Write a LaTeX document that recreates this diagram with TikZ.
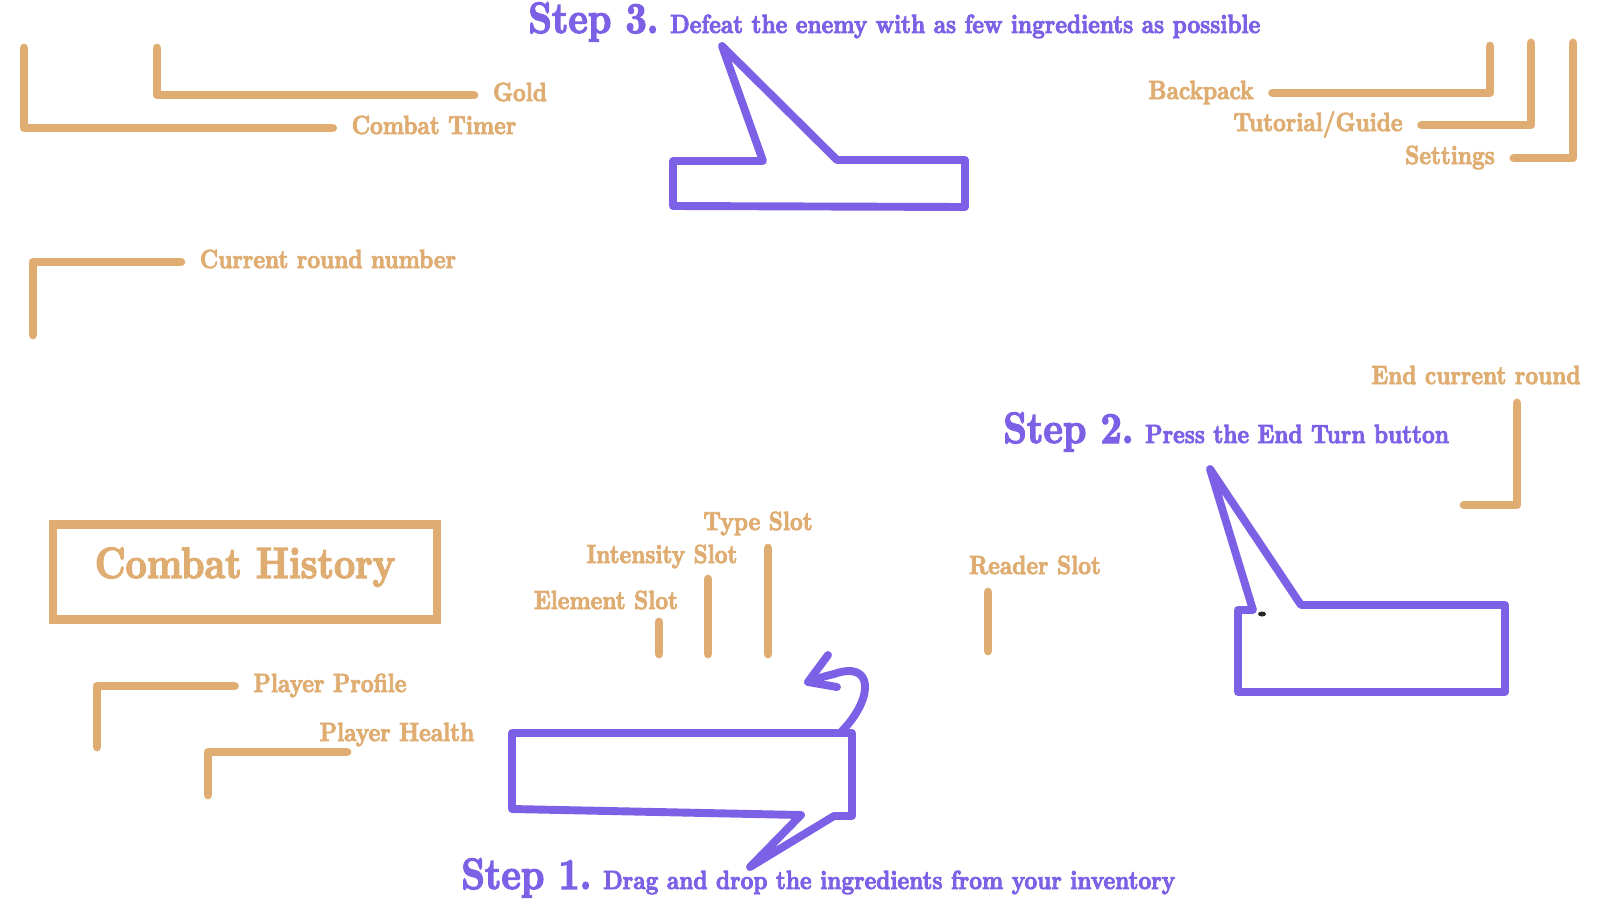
\documentclass[tikz,border=0pt]{standalone}
\usepackage{fontspec}
\usepackage{tikz}
\usetikzlibrary{positioning}
\newfontfamily\handfont[Extension=.otf,FakeStretch=0.84,FakeBold=3]{lmroman10-bold}
\definecolor{sand}{RGB}{223,173,114}
\definecolor{iris}{RGB}{124,97,230}

\begin{document}
\begin{tikzpicture}[x=0.02cm, y=-0.02cm,
  tag/.style={text=sand, font=\handfont\fontsize{15}{18}\selectfont, inner sep=0pt,
              outer sep=0.38cm, text height=2ex, text depth=0.4ex},
  tanline/.style={draw=sand, line width=5pt, line cap=round, line join=round},
  bubble/.style={draw=iris, line width=4.5pt, line cap=round, line join=round},
  stepno/.style={text=iris, font=\handfont\fontsize{25}{30}\selectfont, inner sep=0pt},
  stepnote/.style={text=iris, font=\handfont\fontsize{15}{18}\selectfont, inner sep=0pt}
]
  \useasboundingbox (0,0) rectangle (1600,900);

  % Steps
  \node[stepno, anchor=base west] (step3) at (528,33)  {Step 3.};
  \node[stepnote, base right=0.22cm of step3] (goal3) {Defeat the enemy with as few ingredients as possible};
  \node[stepno, anchor=base west] (step2) at (1003,443) {Step 2.};
  \node[stepnote, base right=0.22cm of step2] (goal2) {Press the End Turn button};
  \node[stepno, anchor=base west] (step1) at (461,889) {Step 1.};
  \node[stepnote, base right=0.22cm of step1] (goal1) {Drag and drop the ingredients from your inventory};

  % Callouts
  \draw[bubble] (763,161) -- (722,46) -- (837,160) -- (965,160) -- (965,207) -- (673,206) -- (673,161) -- cycle;
  \draw[bubble] (1253,610) -- (1210,469) -- (1301,605) -- (1505,605) -- (1505,692) -- (1238,692) -- (1238,610) -- cycle;
  \fill[black!85] (1262,614) ellipse (4 and 2.5);
  \draw[bubble] (512,733) -- (852,733) -- (852,816) -- (834,816) -- (750,867) -- (801,815) -- (512,809) -- cycle;
  \coordinate (dropfrom) at (842,731);
  \coordinate (droptip)  at (808,682);
  \draw[bubble] (dropfrom) .. controls (874,698) and (874,660) .. (834,674) .. controls (822,677) .. (droptip);
  \draw[bubble] (828,655) -- (droptip) -- (837,687);

  % Labels
  \node[tag] (gold)      at (520,95)   {Gold};
  \node[tag] (timer)     at (434,128)  {Combat Timer};
  \node[tag] (backpack)  at (1201,93)  {Backpack};
  \node[tag] (guide)     at (1318,125) {Tutorial/Guide};
  \node[tag] (settings)  at (1450,158) {Settings};
  \node[tag] (roundno)   at (328,262)  {Current round number};
  \node[tag] (endround)  at (1476,378) {End current round};
  \node[tag] (profile)   at (330,686)  {Player Profile};
  \node[tag] (health)    at (397,735)  {Player Health};
  \node[tag] (element)   at (606,603)  {Element Slot};
  \node[tag] (intensity) at (662,557)  {Intensity Slot};
  \node[tag] (typeslot)  at (758,524)  {Type Slot};
  \node[tag] (reader)    at (1035,568) {Reader Slot};
  \node[draw=sand, line width=5pt, minimum width=7.68cm, minimum height=1.9cm, text=sand,
        font=\handfont\fontsize{25}{30}\selectfont, text height=2ex, text depth=0.4ex] (history) at (245,572) {Combat History};

  % Brackets
  \draw[tanline] (157,48)  |- (gold.west);
  \draw[tanline] (24,48)   |- (timer.west);
  \draw[tanline] (1490,46) |- (backpack.east);
  \draw[tanline] (1531,43) |- (guide.east);
  \draw[tanline] (1573,43) |- (settings.east);
  \draw[tanline] (33,335)  |- (roundno.west);
  \draw[tanline] (97,747)  |- (profile.west);
  \coordinate (healthend) at (347,752);
  \draw[tanline] (208,795) |- (healthend);
  \coordinate (endfoot) at (1464,505);
  \draw[tanline] (1517,403) |- (endfoot);

  % Slot ticks
  \draw[tanline] (659,622) -- (659,654);
  \draw[tanline] (708,579) -- (708,654);
  \draw[tanline] (768,548) -- (768,654);
  \draw[tanline] (988,592) -- (988,651);
\end{tikzpicture}
\end{document}
